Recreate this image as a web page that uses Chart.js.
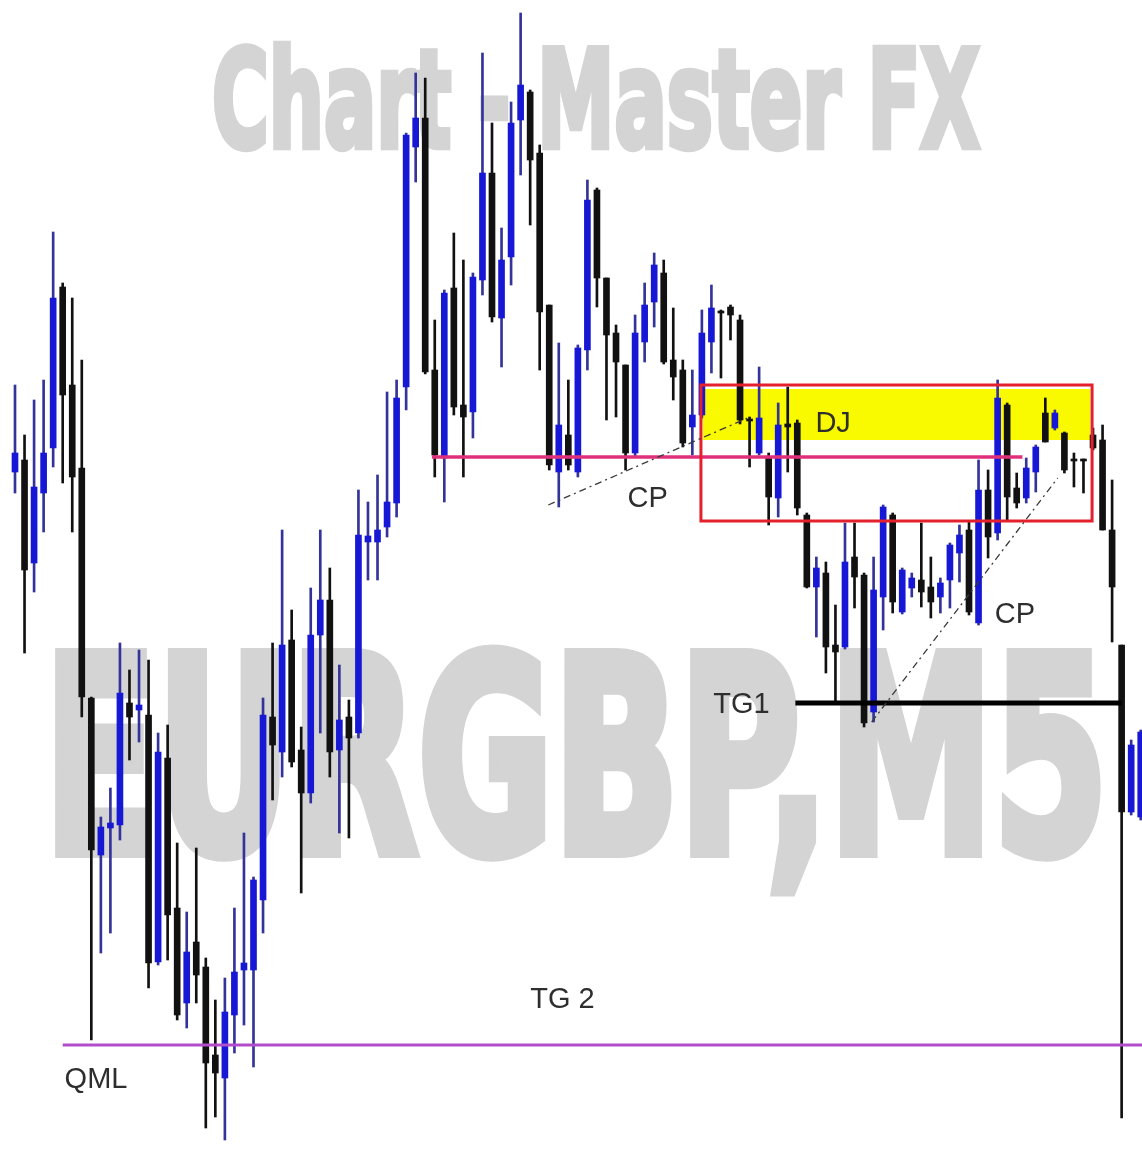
<!DOCTYPE html>
<html>
<head>
<meta charset="utf-8">
<script src="https://cdn.jsdelivr.net/npm/chart.js@4.4.1/dist/chart.umd.min.js"></script>
<style>
html,body{margin:0;padding:0;background:#fff;}
#wrap{position:relative;width:1142px;height:1149px;}
</style>
</head>
<body>
<div id="wrap"><canvas id="c"></canvas></div>
<script>
// EURGBP M5 candles (prices)
const opens = [0.86678,0.86690,0.86587,0.86657,0.86702,0.86863,0.86765,0.86682,0.86452,0.86295,
0.86322,0.86325,0.86447,0.86440,0.86435,0.86188,0.86392,0.86242,0.86147,0.86208,
0.86183,0.86095,0.86072,0.86135,0.86180,0.86180,0.86250,0.86433,0.86398,0.86510,
0.86400,0.86357,0.86515,0.86550,0.86400,0.86433,0.86417,0.86608,0.86608,0.86623,
0.86647,0.86763,0.87003,0.87032,0.86780,0.86692,0.86862,0.86745,0.86738,0.86870,
0.86977,0.86832,0.86893,0.87030,0.87058,0.86997,0.86845,0.86678,0.86715,0.86678,
0.86800,0.86960,0.86872,0.86817,0.86785,0.86697,0.86808,0.86848,0.86877,0.86790,
0.86780,0.86723,0.86735,0.86808,0.86838,0.86843,0.86830,0.86731,0.86697,0.86692,
0.86652,0.86726,0.86727,0.86635,0.86563,0.86577,0.86505,0.86503,0.86593,0.86575,
0.86438,0.86553,0.86635,0.86538,0.86562,0.86570,0.86563,0.86553,0.86570,0.86597,
0.86620,0.86527,0.86660,0.86617,0.86745,0.86662,0.86652,0.86678,0.86737,0.86722,
0.86717,0.86691,0.86691,0.86715,0.86710,0.86620,0.86505,0.86338,0.86333];
const highs = [0.86765,0.86715,0.86750,0.86770,0.86918,0.86867,0.86852,0.86790,0.86453,0.86333,
0.86362,0.86507,0.86480,0.86500,0.86490,0.86417,0.86425,0.86307,0.86238,0.86302,
0.86192,0.86150,0.86172,0.86242,0.86317,0.86273,0.86452,0.86507,0.86620,0.86540,
0.86423,0.86562,0.86620,0.86582,0.86485,0.86450,0.86660,0.86648,0.86675,0.86758,
0.86770,0.87017,0.87077,0.87072,0.86830,0.86860,0.86917,0.86890,0.86877,0.87097,
0.87027,0.86922,0.87048,0.87137,0.87060,0.87005,0.86845,0.86807,0.86770,0.86805,
0.86970,0.86962,0.86872,0.86825,0.86785,0.86835,0.86867,0.86897,0.86890,0.86842,
0.86790,0.86780,0.86840,0.86865,0.86840,0.86845,0.86835,0.86733,0.86783,0.86697,
0.86747,0.86763,0.86730,0.86637,0.86593,0.86588,0.86545,0.86627,0.86627,0.86577,
0.86593,0.86645,0.86637,0.86582,0.86577,0.86627,0.86593,0.86572,0.86607,0.86625,
0.86628,0.86690,0.86680,0.86770,0.86747,0.86677,0.86692,0.86705,0.86752,0.86740,
0.86718,0.86697,0.86691,0.86722,0.86725,0.86670,0.86505,0.86410,0.86420];
const lows = [0.86657,0.86497,0.86558,0.86618,0.86683,0.86667,0.86618,0.86433,0.86110,0.86197,
0.86217,0.86310,0.86390,0.86408,0.86162,0.86185,0.86190,0.86130,0.86122,0.86147,
0.86022,0.86033,0.86010,0.86097,0.86125,0.86083,0.86217,0.86350,0.86373,0.86383,
0.86257,0.86347,0.86417,0.86373,0.86317,0.86312,0.86412,0.86570,0.86570,0.86613,
0.86633,0.86740,0.86968,0.86776,0.86673,0.86648,0.86735,0.86673,0.86712,0.86855,
0.86828,0.86783,0.86865,0.86975,0.86925,0.86780,0.86680,0.86643,0.86680,0.86673,
0.86780,0.86843,0.86730,0.86733,0.86680,0.86693,0.86788,0.86823,0.86786,0.86750,
0.86703,0.86695,0.86732,0.86777,0.86772,0.86810,0.86726,0.86683,0.86695,0.86625,
0.86633,0.86678,0.86635,0.86562,0.86513,0.86477,0.86447,0.86501,0.86542,0.86423,
0.86428,0.86520,0.86537,0.86536,0.86553,0.86543,0.86532,0.86537,0.86542,0.86568,
0.86535,0.86525,0.86592,0.86610,0.86630,0.86642,0.86647,0.86658,0.86708,0.86720,
0.86677,0.86663,0.86657,0.86700,0.86620,0.86508,0.86032,0.86335,0.86330];
const closes = [0.86697,0.86580,0.86663,0.86697,0.86852,0.86755,0.86673,0.86453,0.86300,0.86323,
0.86327,0.86457,0.86433,0.86445,0.86187,0.86398,0.86235,0.86135,0.86198,0.86175,
0.86087,0.86077,0.86138,0.86178,0.86187,0.86270,0.86435,0.86405,0.86505,0.86388,
0.86357,0.86515,0.86550,0.86398,0.86430,0.86412,0.86615,0.86614,0.86620,0.86648,
0.86752,0.87015,0.87032,0.86778,0.86695,0.86857,0.86743,0.86733,0.86873,0.86977,
0.86833,0.86890,0.87027,0.87065,0.86990,0.86838,0.86685,0.86725,0.86685,0.86802,
0.86950,0.86872,0.86815,0.86788,0.86697,0.86817,0.86845,0.86885,0.86788,0.86773,
0.86707,0.86735,0.86817,0.86842,0.86837,0.86835,0.86730,0.86729,0.86732,0.86653,
0.86725,0.86723,0.86642,0.86563,0.86582,0.86503,0.86498,0.86588,0.86573,0.86427,
0.86560,0.86643,0.86548,0.86580,0.86572,0.86558,0.86548,0.86567,0.86605,0.86615,
0.86538,0.86660,0.86613,0.86752,0.86653,0.86647,0.86682,0.86703,0.86708,0.86737,
0.86680,0.86689,0.86689,0.86702,0.86620,0.86563,0.86338,0.86405,0.86418];

// Annotation values (candle index / price)
const qmlLevel = 0.86105, qmlFrom = 5.0;
const tg1Level = 0.86447, tg1From = 81.8, tg1To = 116;
const neckLevel = 0.86693, neckFrom = 43.7, neckTo = 105.6;
const zoneBox = [71.9, 112.9, 0.86765, 0.86629];
const djBand = [72.1, 112.7, 0.86761, 0.86710];
const cpLines = [[55.9, 0.86645, 76.8, 0.86732], [89.8, 0.86428, 109.3, 0.86672]];
const labelText = ["QML", "TG 2", "TG1", "DJ", "CP", "CP"];
const labelIdx = [5.2, 54.0, 73.2, 83.9, 64.2, 102.7];
const labelPrice = [0.86062, 0.86142, 0.86437, 0.86718, 0.86643, 0.86527];
const watermarks = ["Chart - Master FX", "EURGBP,M5"];

const idx = opens.map((_, i) => i);
const isUp = i => closes[i] > opens[i];
const BLUE = '#1717d6', WICK_BLUE = '#33339a', BLACK = '#111111';

function drawWatermark(ctx, text, cap, stemAdd, l, r, bottom) {
  let sx = 0.7, L = 0, fs = 0, w = 0;
  for (let k = 0; k < 4; k++) {
    L = stemAdd / sx;
    fs = (cap - L) / 0.729;
    ctx.font = 'bold ' + fs + 'px "DejaVu Sans Condensed", "Liberation Sans", sans-serif';
    w = ctx.measureText(text).width;
    sx = (r - l) / (w + L);
  }
  ctx.save();
  ctx.translate(l + (L / 2) * sx, bottom - L / 2);
  ctx.scale(sx, 1);
  ctx.textBaseline = 'alphabetic';
  ctx.lineWidth = L;
  ctx.lineJoin = 'miter';
  ctx.miterLimit = 3;
  ctx.fillText(text, 0, 0);
  if (L > 0) ctx.strokeText(text, 0, 0);
  ctx.restore();
}

const overlay = {
  id: 'overlay',
  beforeDatasetsDraw(chart) {
    const ctx = chart.ctx, k = chart.width / 1142;
    const x = chart.scales.x, y = chart.scales.y;
    ctx.save();
    ctx.fillStyle = '#d4d4d4';
    ctx.strokeStyle = '#d4d4d4';
    drawWatermark(ctx, watermarks[0], 105, 4, 210 * k, 982 * k, 150);
    drawWatermark(ctx, watermarks[1], 210, 8, 40 * k, 1112 * k, 858);
    // yellow DJ band
    ctx.fillStyle = '#f9f900';
    const bx1 = x.getPixelForValue(djBand[0]), bx2 = x.getPixelForValue(djBand[1]);
    const by1 = y.getPixelForValue(djBand[2]), by2 = y.getPixelForValue(djBand[3]);
    ctx.fillRect(bx1, by1, bx2 - bx1, by2 - by1);
    ctx.restore();
  },
  afterDatasetsDraw(chart) {
    const ctx = chart.ctx;
    const x = chart.scales.x, y = chart.scales.y;
    ctx.save();
    // QML line
    ctx.strokeStyle = '#b24ccb'; ctx.lineWidth = 3;
    ctx.beginPath();
    ctx.moveTo(x.getPixelForValue(qmlFrom), y.getPixelForValue(qmlLevel));
    ctx.lineTo(chart.width, y.getPixelForValue(qmlLevel));
    ctx.stroke();
    // neckline (magenta)
    ctx.strokeStyle = '#e0307c'; ctx.lineWidth = 3.5;
    ctx.beginPath();
    ctx.moveTo(x.getPixelForValue(neckFrom), y.getPixelForValue(neckLevel));
    ctx.lineTo(x.getPixelForValue(neckTo), y.getPixelForValue(neckLevel));
    ctx.stroke();
    // red zone box
    ctx.strokeStyle = '#e3202c'; ctx.lineWidth = 3;
    const rx1 = x.getPixelForValue(zoneBox[0]), rx2 = x.getPixelForValue(zoneBox[1]);
    const ry1 = y.getPixelForValue(zoneBox[2]), ry2 = y.getPixelForValue(zoneBox[3]);
    ctx.strokeRect(rx1, ry1, rx2 - rx1, ry2 - ry1);
    // TG1 line
    ctx.strokeStyle = '#000'; ctx.lineWidth = 5;
    ctx.beginPath();
    ctx.moveTo(x.getPixelForValue(tg1From), y.getPixelForValue(tg1Level));
    ctx.lineTo(x.getPixelForValue(tg1To), y.getPixelForValue(tg1Level));
    ctx.stroke();
    // CP dashed trend lines
    ctx.strokeStyle = '#3a3a3a'; ctx.lineWidth = 1.3; ctx.setLineDash([7, 4, 2, 4]);
    cpLines.forEach(([i1, p1, i2, p2]) => {
      ctx.beginPath();
      ctx.moveTo(x.getPixelForValue(i1), y.getPixelForValue(p1));
      ctx.lineTo(x.getPixelForValue(i2), y.getPixelForValue(p2));
      ctx.stroke();
    });
    ctx.setLineDash([]);
    // labels
    ctx.fillStyle = '#2e2e2e';
    ctx.font = '29px "Liberation Sans", Arial, sans-serif';
    ctx.textBaseline = 'alphabetic';
    labelText.forEach((t, k) => {
      ctx.fillText(t, x.getPixelForValue(labelIdx[k]), y.getPixelForValue(labelPrice[k]));
    });
    ctx.restore();
  }
};

new Chart(document.getElementById('c'), {
  type: 'bar',
  data: {
    datasets: [
      {
        label: 'Body',
        data: idx.map(i => ({ x: i, y: [opens[i], closes[i]] })),
        backgroundColor: c => isUp(c.dataIndex) ? BLUE : BLACK,
        barThickness: 6,
        minBarLength: 2,
        grouped: false,
        borderWidth: 0
      },
      {
        label: 'Wick',
        data: idx.map(i => ({ x: i, y: [lows[i], highs[i]] })),
        backgroundColor: c => isUp(c.dataIndex) ? WICK_BLUE : BLACK,
        barThickness: 2,
        grouped: false,
        borderWidth: 0
      }
    ]
  },
  options: {
    responsive: true,
    maintainAspectRatio: false,
    animation: false,
    events: [],
    layout: { padding: 0 },
    plugins: { legend: { display: false }, tooltip: { enabled: false }, title: { display: false } },
    scales: {
      x: { type: 'linear', min: -1.5723, max: 118.134, display: false, offset: false },
      y: { min: 0.86001, max: 0.87150, display: false }
    }
  },
  plugins: [overlay]
});
</script>
</body>
</html>
